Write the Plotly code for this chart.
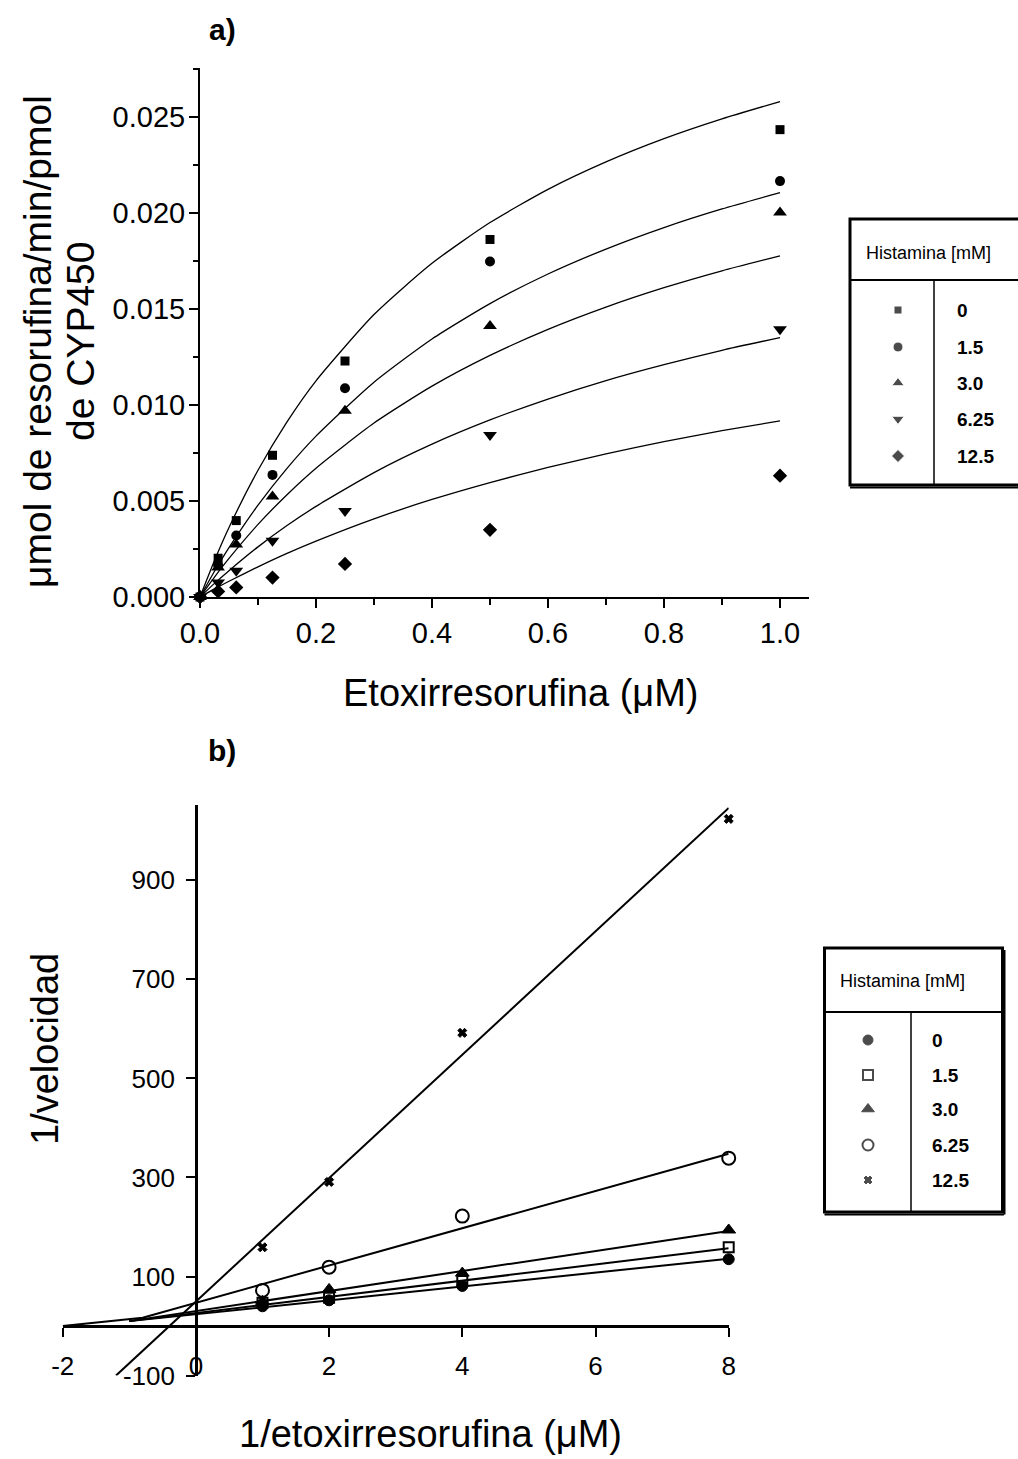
import plotly.graph_objects as go

W, H = 1018, 1459

# ---------------- Panel a data ----------------
sustrato = [0, 0.03125, 0.0625, 0.125, 0.25, 0.5, 1.0]
vel_h0 = [0, 0.00202, 0.00398, 0.00738, 0.01229, 0.01862, 0.02434]
vel_h15 = [0, 0.00166, 0.00320, 0.00636, 0.01087, 0.01747, 0.02166]
vel_h30 = [0, 0.00154, 0.00273, 0.00524, 0.00970, 0.01412, 0.02003]
vel_h625 = [0, 0.00076, 0.00137, 0.00293, 0.00448, 0.00844, 0.01395]
vel_h125 = [0, 0.00029, 0.00050, 0.00101, 0.00172, 0.00350, 0.00632]

ajuste_x = [0, 0.025, 0.05, 0.1, 0.15, 0.2, 0.3, 0.4, 0.5, 0.6, 0.7, 0.8, 0.9, 1.0]
ajuste_h0 = [0, 0.00190, 0.00362, 0.00660, 0.00912, 0.01126, 0.01471, 0.01738, 0.01950, 0.02123, 0.02266, 0.02387, 0.02490, 0.02580]
ajuste_h15 = [0, 0.00134, 0.00257, 0.00478, 0.00670, 0.00838, 0.01119, 0.01344, 0.01528, 0.01682, 0.01812, 0.01924, 0.02021, 0.02106]
ajuste_h30 = [0, 0.00104, 0.00201, 0.00378, 0.00533, 0.00671, 0.00906, 0.01098, 0.01258, 0.01394, 0.01510, 0.01611, 0.01699, 0.01777]
ajuste_h625 = [0, 0.00071, 0.00137, 0.00261, 0.00372, 0.00472, 0.00648, 0.00796, 0.00922, 0.01031, 0.01127, 0.01210, 0.01285, 0.01351]
ajuste_h125 = [0, 0.00042, 0.00082, 0.00157, 0.00227, 0.00291, 0.00407, 0.00508, 0.00596, 0.00675, 0.00745, 0.00809, 0.00866, 0.00917]

ticks_a_x = [0, 0.2, 0.4, 0.6, 0.8, 1.0]
ticks_a_x_text = ["0.0", "0.2", "0.4", "0.6", "0.8", "1.0"]
ticks_a_y = [0, 0.005, 0.010, 0.015, 0.020, 0.025]
ticks_a_y_text = ["0.000", "0.005", "0.010", "0.015", "0.020", "0.025"]

# ---------------- Panel b data ----------------
inv_sustrato = [1, 2, 4, 8]
inv_h0 = [40, 52, 81, 135]
inv_h15 = [47, 57, 91, 159]
inv_h30 = [50, 74, 107, 194]
inv_h625 = [72, 119, 222, 339]
inv_h125 = [159, 291, 592, 1024]

recta_h0_x = [-1.0, 8]
recta_h0_y = [10, 136]
recta_h15_x = [-1.0, 8]
recta_h15_y = [10, 157]
recta_h30_x = [-1.0, 8]
recta_h30_y = [10, 192]
recta_h625_x = [-2, -0.8, 8]
recta_h625_y = [0, 17, 348]
recta_h125_x = [-1.2, 8]
recta_h125_y = [-100, 1046]

ticks_b_x = [-2, 0, 2, 4, 6, 8]
ticks_b_x_text = ["-2", "0", "2", "4", "6", "8"]
ticks_b_y = [-100, 100, 300, 500, 700, 900]
ticks_b_y_text = ["-100", "100", "300", "500", "700", "900"]

histamina = ["0", "1.5", "3.0", "6.25", "12.5"]

# ---------------- layout helpers ----------------
def fx(px):
    return px / W

def fy(py):
    return 1 - py / H

FONT = "Liberation Sans, Arial, sans-serif"

fig = go.Figure()

# ----- panel a -----
sym_a = ["square", "circle", "triangle-up", "triangle-down", "diamond"]
size_a = [9, 10, 12, 12, 11]
for yv in [ajuste_h0, ajuste_h15, ajuste_h30, ajuste_h625, ajuste_h125]:
    fig.add_trace(go.Scatter(x=ajuste_x, y=yv, mode="lines", line=dict(color="black", width=1.3, shape="spline", smoothing=0.6),
                             xaxis="x", yaxis="y", showlegend=False, hoverinfo="skip"))
for yv, s, sz in zip([vel_h0, vel_h15, vel_h30, vel_h625, vel_h125], sym_a, size_a):
    fig.add_trace(go.Scatter(x=sustrato, y=yv, mode="markers", marker=dict(symbol=s, size=sz, color="black"),
                             xaxis="x", yaxis="y", showlegend=False, cliponaxis=False))

# ----- panel b -----
for xv, yv in [(recta_h0_x, recta_h0_y), (recta_h15_x, recta_h15_y), (recta_h30_x, recta_h30_y),
               (recta_h625_x, recta_h625_y), (recta_h125_x, recta_h125_y)]:
    fig.add_trace(go.Scatter(x=xv, y=yv, mode="lines", line=dict(color="black", width=2),
                             xaxis="x2", yaxis="y2", showlegend=False, hoverinfo="skip"))
sym_b = ["circle", "square-open", "triangle-up", "circle-open", "x"]
size_b = [11, 10, 12, 13, 8]
lw_b = [1, 2, 1, 2, 1]
for yv, s, sz, lw in zip([inv_h0, inv_h15, inv_h30, inv_h625, inv_h125], sym_b, size_b, lw_b):
    fig.add_trace(go.Scatter(x=inv_sustrato, y=yv, mode="markers",
                             marker=dict(symbol=s, size=sz, color="black", line=dict(color="black", width=lw)),
                             xaxis="x2", yaxis="y2", showlegend=False, cliponaxis=False))

# ----- legend symbols (pixel overlay axis) -----
leg_a_rows = [310, 347, 383, 419, 456]
leg_b_rows = [1040, 1075, 1109, 1145, 1180]
fig.add_trace(go.Scatter(x=[898] * 5, y=leg_a_rows, mode="markers",
                         marker=dict(symbol=sym_a, size=[8, 10, 11, 11, 10], color="black"),
                         xaxis="x3", yaxis="y3", showlegend=False, hoverinfo="skip"))
fig.add_trace(go.Scatter(x=[868] * 5, y=leg_b_rows, mode="markers",
                         marker=dict(symbol=sym_b, size=[10, 10, 11, 11, 7], color="black",
                                     line=dict(color="black", width=[1, 2, 1, 2, 1])),
                         xaxis="x3", yaxis="y3", showlegend=False, hoverinfo="skip"))

# axes geometry
ax_a_x = [fx(200), fx(809)]
ax_a_y = [fy(597), fy(68)]
ax_b_x = [fx(62.7), fx(728.7)]
ax_b_y = [fy(1375.6), fy(805)]
rng_b_x = [-2, 8]
rng_b_y = [-100, 1052]
pos_xaxis2 = ax_b_y[0] + (0 - rng_b_y[0]) / (rng_b_y[1] - rng_b_y[0]) * (ax_b_y[1] - ax_b_y[0])
pos_yaxis2 = ax_b_x[0] + (0 - rng_b_x[0]) / (rng_b_x[1] - rng_b_x[0]) * (ax_b_x[1] - ax_b_x[0])

common = dict(showgrid=False, zeroline=False, showline=True, linecolor="black", ticks="outside",
              tickcolor="black", ticklen=9, tickwidth=2, automargin=False)

shapes = []
def line(x0, y0, x1, y1, w):
    shapes.append(dict(type="line", xref="x3", yref="y3", x0=x0, y0=y0, x1=x1, y1=y1,
                       line=dict(color="black", width=w)))

# legend a box
shapes.append(dict(type="rect", xref="x3", yref="y3", x0=850, y0=219, x1=1030, y1=485,
                   line=dict(color="black", width=3)))
line(850, 487.5, 1030, 487.5, 2)
line(850, 280, 1030, 280, 2)
line(934, 280, 934, 485, 1.5)
# legend b box
shapes.append(dict(type="rect", xref="x3", yref="y3", x0=824.5, y0=948, x1=1002.5, y1=1212,
                   line=dict(color="black", width=3)))
line(824.5, 1214.5, 1004, 1214.5, 2)
line(1004.5, 950, 1004.5, 1214.5, 2)
line(824.5, 1012, 1002.5, 1012, 2)
line(911, 1012, 911, 1212, 1.5)

annotations = []
def txt(x, y, t, size, angle=0, xanchor="center", bold=False):
    annotations.append(dict(xref="x3", yref="y3", x=x, y=y, text=("<b>%s</b>" % t) if bold else t,
                            showarrow=False, textangle=angle, xanchor=xanchor, yanchor="middle",
                            font=dict(size=size, family=FONT, color="black")))

txt(222, 29, "a)", 30, bold=True)
txt(222, 750, "b)", 30, bold=True)
txt(37, 342, "μmol de resorufina/min/pmol", 39, angle=-90)
txt(80, 342, "de CYP450", 39, angle=-90)
txt(521, 693, "Etoxirresorufina (μM)", 38)
txt(45, 1049, "1/velocidad", 38, angle=-90)
txt(430, 1434, "1/etoxirresorufina (μM)", 38)
txt(928, 253, "Histamina [mM]", 18)
txt(902, 981, "Histamina [mM]", 18)
for yy, lab in zip(leg_a_rows, histamina):
    txt(955, yy, lab, 19, xanchor="left", bold=True)
for yy, lab in zip(leg_b_rows, histamina):
    txt(930, yy, lab, 19, xanchor="left", bold=True)

fig.update_layout(
    width=W, height=H, margin=dict(l=0, r=0, t=0, b=0, pad=0, autoexpand=False),
    paper_bgcolor="white", plot_bgcolor="rgba(0,0,0,0)",
    font=dict(family=FONT, color="black"),
    xaxis=dict(domain=ax_a_x, range=[0, 1.05], anchor="y", tickvals=ticks_a_x, ticktext=ticks_a_x_text,
               tickfont=dict(size=29), linewidth=2, ticklabelstandoff=0,
               minor=dict(dtick=0.1, tick0=0, ticks="outside", ticklen=6, tickwidth=2, tickcolor="black"), **common),
    yaxis=dict(domain=ax_a_y, range=[0, 0.02755], anchor="x", tickvals=ticks_a_y, ticktext=ticks_a_y_text,
               tickfont=dict(size=29), linewidth=2, ticklabelstandoff=-2,
               minor=dict(dtick=0.0025, tick0=0, ticks="outside", ticklen=5, tickwidth=2, tickcolor="black"), **common),
    xaxis2=dict(domain=ax_b_x, range=rng_b_x, anchor="free", position=pos_xaxis2, tickvals=ticks_b_x,
                ticktext=ticks_b_x_text, tickfont=dict(size=26), linewidth=2.5, ticklabelstandoff=7, **common),
    yaxis2=dict(domain=ax_b_y, range=rng_b_y, anchor="free", position=pos_yaxis2, tickvals=ticks_b_y,
                ticktext=ticks_b_y_text, tickfont=dict(size=26), linewidth=2.5, ticklabelstandoff=6, **common),
    xaxis3=dict(domain=[0, 1], range=[0, W], anchor="y3", visible=False, showticklabels=False,
                automargin=False, fixedrange=True),
    yaxis3=dict(domain=[0, 1], range=[H, 0], anchor="x3", visible=False, showticklabels=False,
                automargin=False, fixedrange=True),
    shapes=shapes, annotations=annotations,
)

fig.write_html("out.html")
